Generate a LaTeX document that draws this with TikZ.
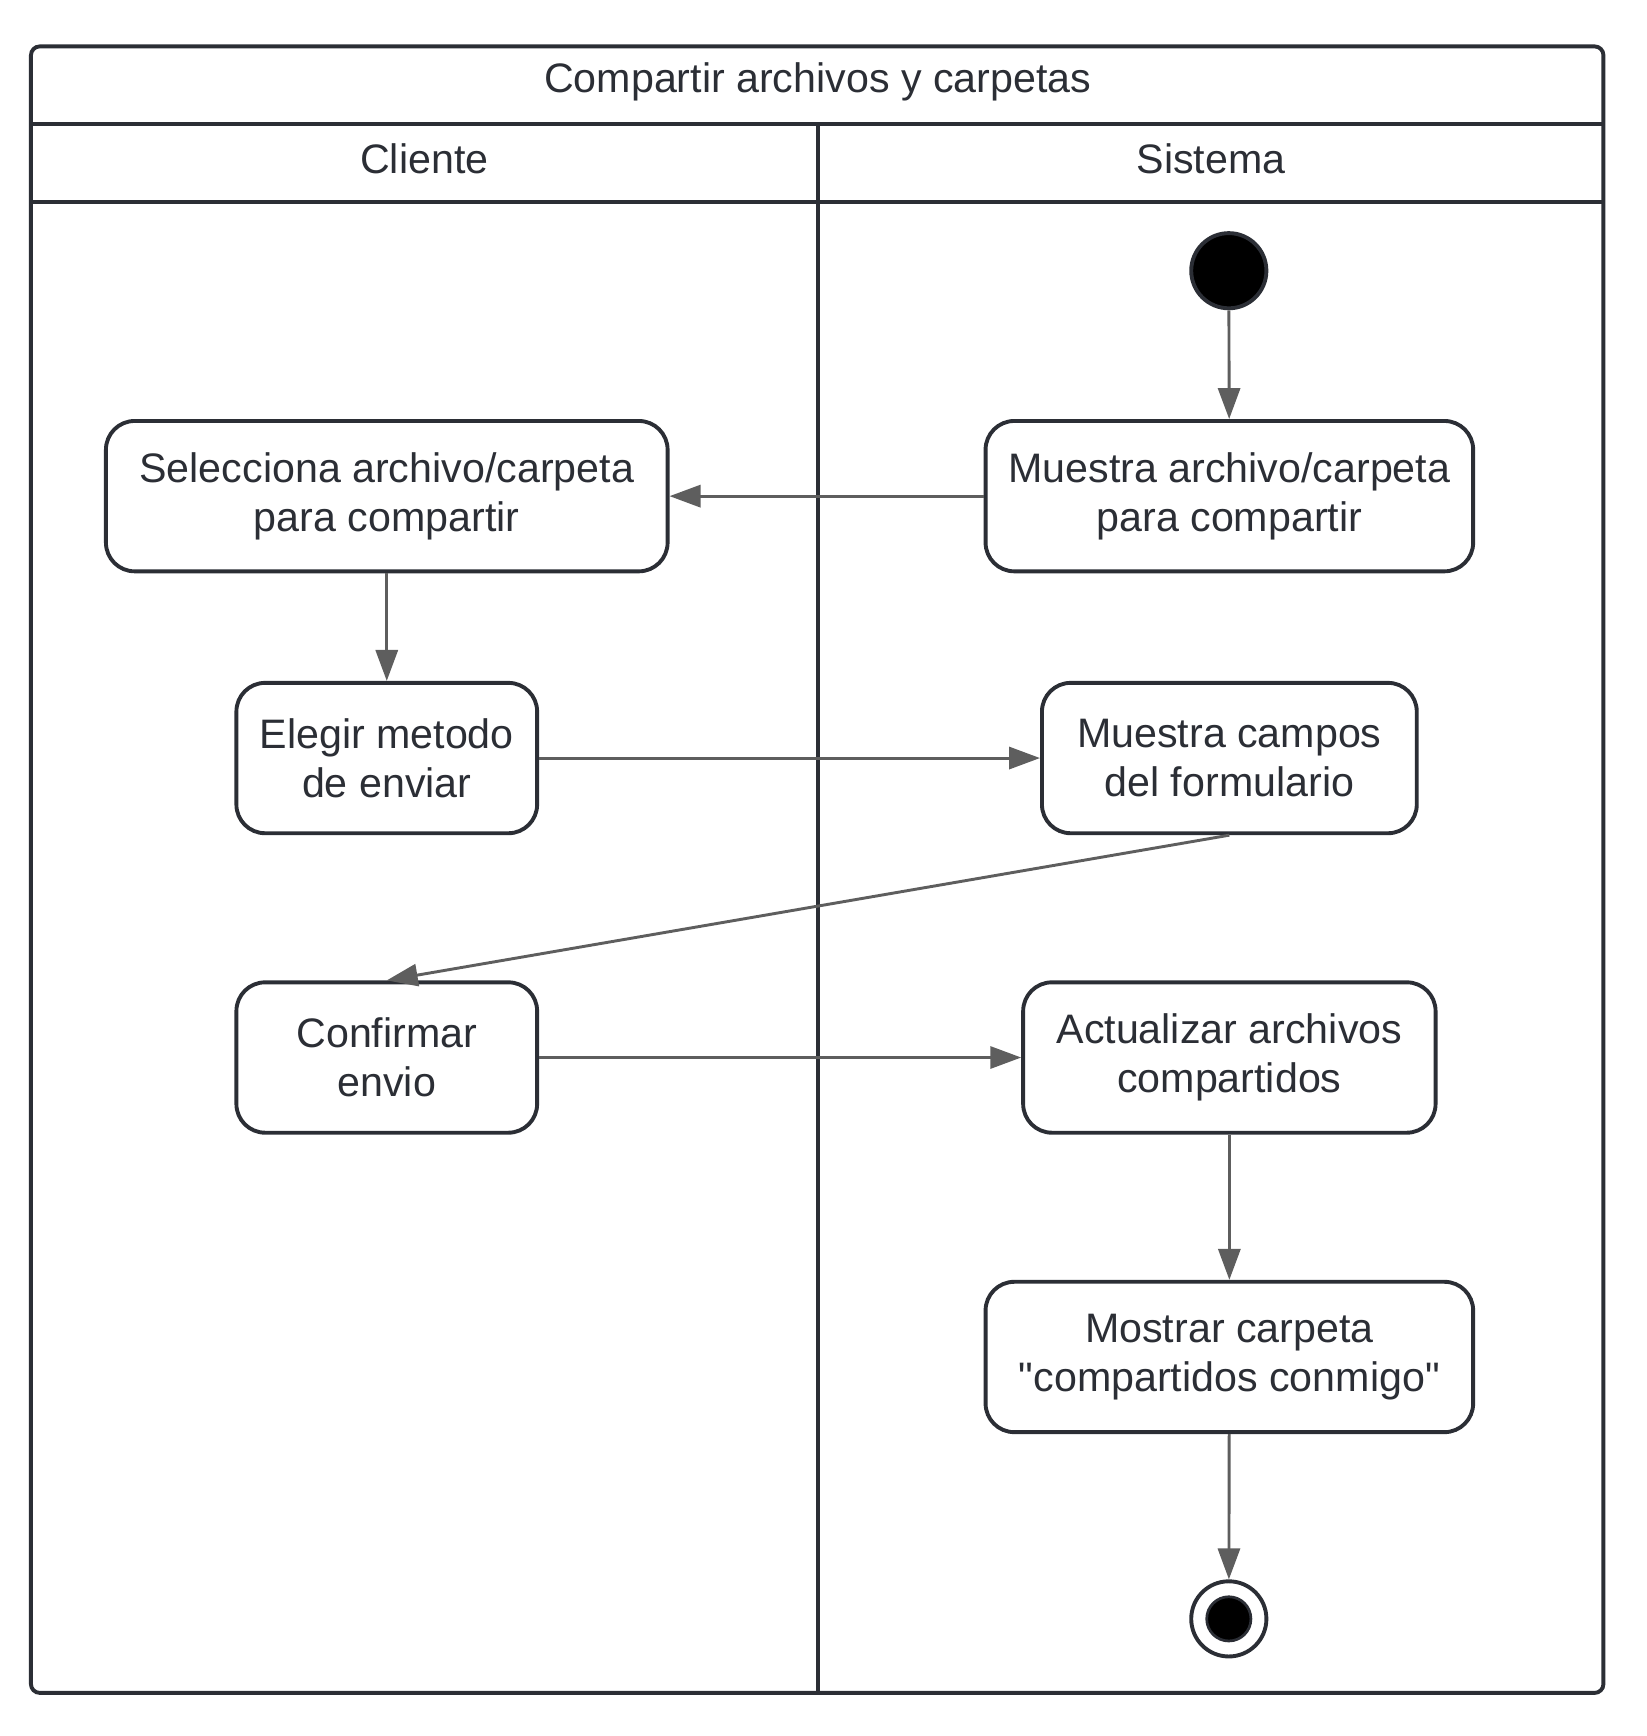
\documentclass[tikz,border=0pt]{standalone}
\usepackage{fontspec}
\setmainfont{Liberation Sans}[Ligatures=TeXOff]
\usetikzlibrary{arrows.meta}
\definecolor{ink}{HTML}{2B2E35}
\definecolor{arr}{HTML}{5E5E5E}
\begin{document}
\begin{tikzpicture}[x=0.01cm,y=-0.01cm,
  font=\fontsize{10.6}{12.7}\selectfont,
  frame/.style={draw=ink,line width=1pt},
  act/.style={draw=ink,line width=1pt,rounded corners=0.26cm,fill=white,
    text=ink,align=center,inner sep=0pt},
  lbl/.style={text=ink,inner sep=0pt},
  flow/.style={draw=arr,line width=0.75pt,-{Triangle[length=0.28cm,width=0.2cm]}},
]
\useasboundingbox (0,0) rectangle (1490,1571);
% frame
\draw[frame,rounded corners=0.08cm] (28,42) rectangle (1451,1532);
\draw[frame] (28,112) -- (1451,112);
\draw[frame] (28,183) -- (1451,183);
\draw[frame] (740,112) -- (740,1532);
\node[lbl] (title) at (740,74) {Compartir archivos y carpetas};
\node[lbl] (cli) at (384,144) {Cliente};
\node[lbl] (sis) at (1096,144) {Sistema};
% nodes
\node[circle,fill=black,draw=ink,line width=1pt,minimum size=0.68cm,inner sep=0pt] (start) at (1112,245) {};
\node[act,minimum width=4.41cm,minimum height=1.36cm] (mue) at (1112.5,449) {Muestra archivo/carpeta\\para compartir};
\node[act,minimum width=5.08cm,minimum height=1.36cm] (sel) at (350,449) {Selecciona archivo/carpeta\\para compartir};
\node[act,minimum width=2.72cm,minimum height=1.36cm] (ele) at (350,686) {Elegir metodo\\de enviar};
\node[act,minimum width=3.39cm,minimum height=1.36cm] (cam) at (1112.5,686) {Muestra campos\\del formulario};
\node[act,minimum width=2.72cm,minimum height=1.36cm] (con) at (350,957) {Confirmar\\envio};
\node[act,minimum width=3.73cm,minimum height=1.36cm] (act) at (1112.5,957) {Actualizar archivos\\compartidos};
\node[act,minimum width=4.41cm,minimum height=1.36cm] (mos) at (1112.5,1228) {Mostrar carpeta\\"compartidos conmigo"};
\node[circle,draw=ink,line width=1pt,fill=white,minimum size=0.68cm,inner sep=0pt] (fin) at (1112,1465) {};
\node[circle,fill=black,draw=ink,line width=0.7pt,minimum size=0.4cm,inner sep=0pt] (finin) at (1112,1465) {};
% flows
\draw[flow] (start) -- (mue);
\draw[flow] (mue) -- (sel);
\draw[flow] (sel) -- (ele);
\draw[flow] (ele) -- (cam);
\draw[flow] (cam.south) -- (con.north);
\draw[flow] (con) -- (act);
\draw[flow] (act) -- (mos);
\draw[flow] (mos) -- (fin);
\end{tikzpicture}
\end{document}
